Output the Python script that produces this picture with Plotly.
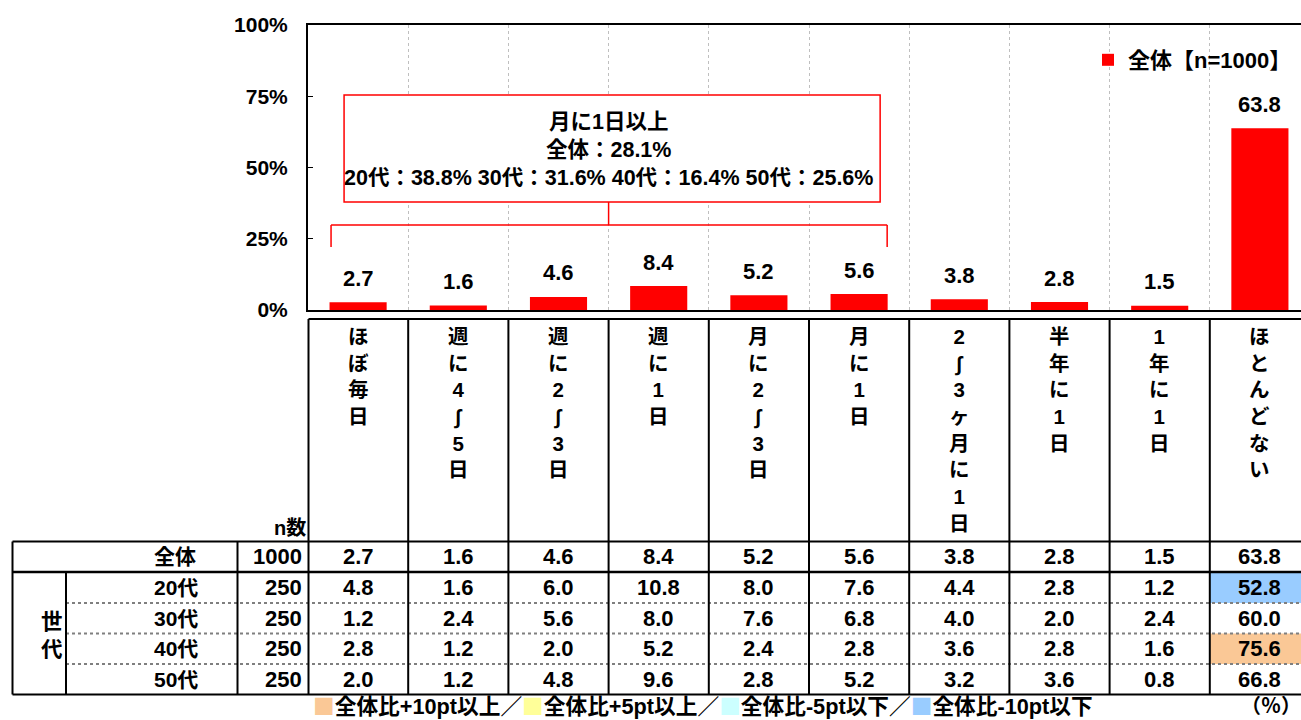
import plotly.graph_objects as go

# ---------------- data ----------------
categories = ["ほぼ毎日", "週に4～5日", "週に2～3日", "週に1日", "月に2～3日",
              "月に1日", "2～3ヶ月に1日", "半年に1日", "1年に1日", "ほとんどない"]
total_values = [2.7, 1.6, 4.6, 8.4, 5.2, 5.6, 3.8, 2.8, 1.5, 63.8]
row_labels = ["全体", "20代", "30代", "40代", "50代"]
row_n = [1000, 250, 250, 250, 250]
age_20 = [4.8, 1.6, 6.0, 10.8, 8.0, 7.6, 4.4, 2.8, 1.2, 52.8]
age_30 = [1.2, 2.4, 5.6, 8.0, 7.6, 6.8, 4.0, 2.0, 2.4, 60.0]
age_40 = [2.8, 1.2, 2.0, 5.2, 2.4, 2.8, 3.6, 2.8, 1.6, 75.6]
age_50 = [2.0, 1.2, 4.8, 9.6, 2.8, 5.2, 3.2, 3.6, 0.8, 66.8]
y_ticks = [0, 25, 50, 75, 100]
y_ticktext = ["0%", "25%", "50%", "75%", "100%"]
group_count = 6  # 月に1日以上 = first 6 categories
series_name = "全体【n=1000】"
legend_items = ["全体比+10pt以上", "全体比+5pt以上", "全体比-5pt以下", "全体比-10pt以下"]

table_rows = [total_values, age_20, age_30, age_40, age_50]

# ---------------- layout helpers ----------------
W, H = 1301, 720
L, T = 308, 25
PLOT_BOTTOM = 310
PW = W - L
PH_TOTAL = H - T
UNIT = 100.2  # px per category


def PX(p):  # screen px -> paper x
    return (p - L) / PW


def PY(p):  # screen px -> paper y
    return (H - p) / PH_TOTAL


FONT = "Liberation Sans, Noto Sans CJK JP, sans-serif"
CJK = "Noto Sans CJK JP, sans-serif"
BLACK = "#000000"
RED = "#FF0000"
C_P10 = "#FAC896"
C_P5 = "#FFFF99"
C_M5 = "#CCFFFF"
C_M10 = "#99CCFF"

n_cat = len(categories)
xs = list(range(n_cat))

fig = go.Figure()
fig.add_trace(go.Bar(
    x=xs, y=total_values, name=series_name,
    marker=dict(color=RED, line=dict(width=0)),
    width=0.57, hoverinfo="skip",
))

annotations = []
shapes = []

# value labels above bars
for i, v in enumerate(total_values):
    annotations.append(dict(
        x=i, y=v, xref="x", yref="y", text=f"{v:.1f}", showarrow=False,
        yanchor="middle", yshift=24,
        font=dict(family=FONT, size=22, color=BLACK, weight="bold")))


# callout box (月に1日以上)
def s(vals):
    return sum(vals[:group_count])


box_x0, box_x1 = -0.14, 5.21
br_x0, br_x1 = -0.27, 5.28
box_top, box_bot = 75.4, 37.9
br_y, br_tick = 29.8, 22.1
mid = (group_count - 1) / 2
shapes.append(dict(type="rect", xref="x", yref="y", x0=box_x0, x1=box_x1,
                   y0=box_bot, y1=box_top, line=dict(color=RED, width=1.5),
                   fillcolor="white", layer="above"))
shapes.append(dict(type="line", xref="x", yref="y", x0=mid, x1=mid, y0=box_bot, y1=br_y,
                   line=dict(color=RED, width=1.5)))
shapes.append(dict(type="line", xref="x", yref="y", x0=br_x0, x1=br_x1, y0=br_y, y1=br_y,
                   line=dict(color=RED, width=1.5)))
for bx in (br_x0, br_x1):
    shapes.append(dict(type="line", xref="x", yref="y", x0=bx, x1=bx, y0=br_y, y1=br_tick,
                       line=dict(color=RED, width=1.5)))

callout_lines = [
    "月に1日以上",
    f"全体：{s(total_values):.1f}%",
    " ".join([f"{lab}：{s(r):.1f}%" for lab, r in zip(row_labels[1:], table_rows[1:])]),
]
annotations.append(dict(
    x=mid, y=(box_top + box_bot) / 2 - 0.5, xref="x", yref="y",
    text="<br>".join(callout_lines),
    showarrow=False, yanchor="middle",
    font=dict(family=FONT, size=21.5, color=BLACK, weight="bold")))

# ---------------- table ----------------
HEAD_TOP = 319
ROW_EDGES = [541.5, 572, 603, 633.5, 664, 694.5]
X_LEFT, X_GEN, X_N, X_DATA = 12.5, 66, 237.5, 308.5
RIGHT = 1301

# highlight fills
for r in range(1, len(table_rows)):
    for c in range(n_cat):
        d = table_rows[r][c] - total_values[c]
        col = None
        if d >= 10:
            col = C_P10
        elif d >= 5:
            col = C_P5
        elif d <= -10:
            col = C_M10
        elif d <= -5:
            col = C_M5
        if col:
            shapes.append(dict(type="rect", xref="x", yref="paper",
                               x0=c - 0.5, x1=c + 0.5,
                               y0=PY(ROW_EDGES[r + 1]), y1=PY(ROW_EDGES[r]),
                               fillcolor=col, line=dict(width=0), layer="below"))


def hline(p, x0, x1, dash="solid", color=BLACK, width=2):
    shapes.append(dict(type="line", xref="paper", yref="paper", x0=PX(x0), x1=PX(x1),
                       y0=PY(p), y1=PY(p), line=dict(color=color, width=width, dash=dash)))


def vline(p, y0, y1, width=2):
    shapes.append(dict(type="line", xref="paper", yref="paper", x0=PX(p), x1=PX(p),
                       y0=PY(y0), y1=PY(y1), line=dict(color=BLACK, width=width)))


hline(HEAD_TOP, X_DATA, RIGHT)
hline(ROW_EDGES[0], X_LEFT, RIGHT)
hline(ROW_EDGES[1], X_LEFT, RIGHT, width=2.5)
for p in ROW_EDGES[2:5]:
    hline(p, X_GEN, RIGHT, dash="dot", color="#7F7F7F", width=2)
hline(ROW_EDGES[5], X_LEFT, RIGHT)
vline(X_LEFT, ROW_EDGES[0], ROW_EDGES[5])
vline(X_GEN, ROW_EDGES[1], ROW_EDGES[5])
vline(X_N, ROW_EDGES[0], ROW_EDGES[5])
vline(X_DATA, HEAD_TOP, ROW_EDGES[5])
for c in range(n_cat - 1):
    shapes.append(dict(type="line", xref="x", yref="paper", x0=c + 0.5, x1=c + 0.5,
                       y0=PY(HEAD_TOP), y1=PY(ROW_EDGES[5]),
                       line=dict(color=BLACK, width=2)))

# vertical header labels (one character per line)
HEAD_FONT = 20.5  # line pitch = 1.3 * font size ~ 26.6px
for c, lab in enumerate(categories):
    lines = ["∫" if ch == "～" else ch for ch in lab]
    annotations.append(dict(
        x=c, y=PY(323), xref="x", yref="paper", text="<br>".join(lines),
        showarrow=False, yanchor="top", align="center",
        font=dict(family=FONT, size=HEAD_FONT, color=BLACK, weight="bold")))

annotations.append(dict(x=PX(272), y=PY(528), xref="paper", yref="paper", text="n数",
                        showarrow=False, yanchor="middle",
                        font=dict(family=FONT, size=20, color=BLACK, weight="bold")))

# 世代 merged cell
annotations.append(dict(x=PX(39), y=PY(636), xref="paper", yref="paper",
                        text="世<br>代", showarrow=False, yanchor="middle",
                        font=dict(family=FONT, size=21.5, color=BLACK, weight="bold")))

for r, (lab, n, vals) in enumerate(zip(row_labels, row_n, table_rows)):
    yc = PY((ROW_EDGES[r] + ROW_EDGES[r + 1]) / 2)
    annotations.append(dict(x=PX(151.5), y=yc, xref="paper", yref="paper", text=lab,
                            showarrow=False, yanchor="middle",
                            font=dict(family=FONT, size=21, color=BLACK, weight="bold")))
    annotations.append(dict(x=PX(304), y=yc, xref="paper", yref="paper", text=str(n),
                            showarrow=False, yanchor="middle", xanchor="right",
                            font=dict(family=FONT, size=22, color=BLACK, weight="bold")))
    for c, v in enumerate(vals):
        annotations.append(dict(x=c, y=yc, xref="x", yref="paper", text=f"{v:.1f}",
                                showarrow=False, yanchor="middle",
                                font=dict(family=FONT, size=22, color=BLACK, weight="bold")))

# bottom colour legend
leg_colors = [C_P10, C_P5, C_M5, C_M10]
leg_text = "／".join(
    f'<span style="color:{col};font-family:\'Noto Sans CJK JP\'">■</span>{t}'
    for col, t in zip(leg_colors, legend_items))
annotations.append(dict(x=PX(311), y=PY(704), xref="paper", yref="paper", text=leg_text,
                        showarrow=False, xanchor="left", yanchor="middle",
                        font=dict(family=FONT, size=21.7, color=BLACK, weight="bold")))
annotations.append(dict(x=PX(1303), y=PY(704), xref="paper", yref="paper", text="（％）",
                        showarrow=False, xanchor="right", yanchor="middle",
                        font=dict(family=CJK, size=20, color=BLACK, weight="bold")))

fig.update_layout(
    width=W, height=H,
    margin=dict(l=L, r=0, t=T, b=0, pad=0, autoexpand=False),
    paper_bgcolor="white", plot_bgcolor="white",
    font=dict(family=FONT, color=BLACK),
    showlegend=True,
    legend=dict(x=PX(1088), y=PY(39), xanchor="left", yanchor="top",
                bgcolor="rgba(0,0,0,0)", borderwidth=0,
                font=dict(family=FONT, size=22, color=BLACK, weight="bold"),
                itemclick=False, itemdoubleclick=False),
    xaxis=dict(range=[-0.5, -0.5 + PW / UNIT], tickvals=[c + 0.5 for c in range(n_cat - 1)],
               showticklabels=False, ticks="", showgrid=True, gridcolor="#BFBFBF",
               griddash="dot", gridwidth=1, zeroline=False,
               showline=True, linecolor=BLACK, linewidth=2, mirror=True, fixedrange=True),
    yaxis=dict(domain=[PY(PLOT_BOTTOM), 1], range=[0, 100], tickvals=y_ticks,
               ticktext=y_ticktext, ticks="inside", ticklen=5, tickcolor=BLACK, tickwidth=1,
               ticklabelstandoff=14, showgrid=False, zeroline=False,
               showline=True, linecolor=BLACK, linewidth=2, fixedrange=True,
               tickfont=dict(family=FONT, size=21, color=BLACK, weight="bold")),
    annotations=annotations,
    shapes=shapes,
    bargap=0.43,
)

# remove the browser's default 8px body margin so the figure fills the window exactly
fig.write_html("out.html", config={"displayModeBar": False},
               post_script="document.body.style.margin='0';document.body.style.overflow='hidden';")
